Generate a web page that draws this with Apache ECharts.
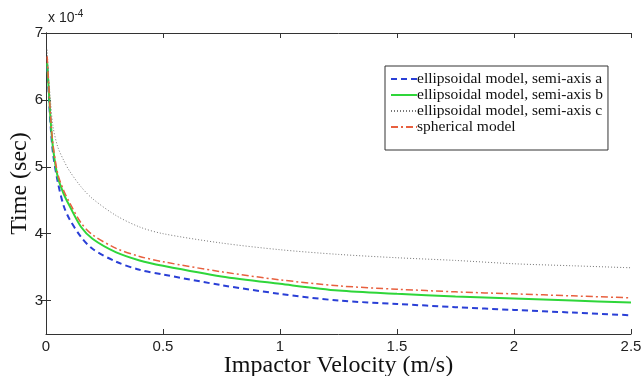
<!DOCTYPE html>
<html>
<head>
<meta charset="utf-8">
<script src="https://cdn.jsdelivr.net/npm/echarts@6/dist/echarts.min.js"></script>
<style>
  html, body { margin: 0; padding: 0; background: #fff; }
  #chart { width: 644px; height: 376px; }
</style>
</head>
<body>
<div id="chart"></div>
<script>
// impactor velocity (m/s)
const velocity = [0.005, 0.01, 0.02, 0.03, 0.05, 0.075, 0.1, 0.15, 0.2, 0.3, 0.4, 0.5, 0.75, 1.0, 1.25, 1.5, 1.75, 2.0, 2.25, 2.5];

// time in units of 1e-4 sec
const semiAxisA = [6.5, 6.2, 5.6, 5.2, 4.78, 4.42, 4.22, 3.95, 3.77, 3.58, 3.46, 3.39, 3.23, 3.1, 3.0, 2.95, 2.9, 2.86, 2.82, 2.78];
const semiAxisB = [6.55, 6.25, 5.68, 5.28, 4.85, 4.6, 4.42, 4.1, 3.92, 3.72, 3.6, 3.52, 3.36, 3.25, 3.15, 3.1, 3.06, 3.03, 3.0, 2.97];
const semiAxisC = [6.75, 6.42, 5.95, 5.6, 5.3, 5.1, 4.94, 4.7, 4.52, 4.27, 4.1, 4.0, 3.86, 3.76, 3.69, 3.64, 3.6, 3.55, 3.52, 3.49];
const spherical = [6.65, 6.32, 5.74, 5.33, 4.9, 4.65, 4.47, 4.16, 3.98, 3.78, 3.66, 3.58, 3.43, 3.31, 3.22, 3.17, 3.13, 3.1, 3.07, 3.04];

const xTicks = [0, 0.5, 1, 1.5, 2, 2.5];
const yTicks = [3, 4, 5, 6, 7];

const pairs = ys => velocity.map((v, i) => [v, ys[i]]);

const chart = echarts.init(document.getElementById('chart'));

const tickFont = { color: '#222', fontFamily: 'Liberation Sans', fontSize: 15 };

chart.setOption({
  animation: false,
  backgroundColor: '#fff',
  grid: { left: 46, right: 13, top: 33, bottom: 42, outerBoundsMode: 'none' },
  legend: {
    orient: 'vertical',
    left: 385,
    top: 66,
    padding: [5, 5, 15, 5],
    itemGap: 0,
    itemWidth: 26,
    itemHeight: 12,
    borderColor: '#333',
    borderWidth: 1,
    backgroundColor: '#fff',
    itemStyle: { opacity: 0 },
    textStyle: { color: '#111', fontFamily: 'Liberation Serif', fontSize: 15.5, lineHeight: 15, padding: [0, 0, 0, -5] },
    data: ['ellipsoidal model, semi-axis a', 'ellipsoidal model, semi-axis b', 'ellipsoidal model, semi-axis c', 'spherical model']
  },
  xAxis: [{
    type: 'value',
    min: 0,
    max: 2.5,
    interval: 0.5,
    name: 'Impactor Velocity (m/s)',
    nameLocation: 'middle',
    nameGap: 20,
    nameMoveOverlap: false,
    nameTextStyle: { color: '#111', fontFamily: 'Liberation Serif', fontSize: 24 },
    axisLine: { lineStyle: { color: '#333', width: 1 } },
    axisTick: { inside: true, length: 5, lineStyle: { color: '#333' }, customValues: xTicks },
    axisLabel: { ...tickFont, margin: 5, customValues: xTicks },
    splitLine: { show: false }
  }, {
    type: 'value',
    position: 'top',
    min: 0,
    max: 2.5,
    interval: 0.5,
    axisLine: { show: true, lineStyle: { color: '#333', width: 1 } },
    axisTick: { show: true, inside: true, length: 5, lineStyle: { color: '#333' }, customValues: xTicks },
    axisLabel: { show: false },
    splitLine: { show: false }
  }],
  yAxis: [{
    type: 'value',
    min: 2.5,
    max: 7,
    name: 'Time (sec)',
    nameLocation: 'middle',
    nameGap: 14,
    nameMoveOverlap: false,
    nameTextStyle: { color: '#111', fontFamily: 'Liberation Serif', fontSize: 24 },
    axisLine: { show: true, lineStyle: { color: '#333', width: 1 } },
    axisTick: { show: true, inside: true, length: 5, lineStyle: { color: '#333' }, customValues: yTicks },
    axisLabel: { ...tickFont, margin: 3, customValues: yTicks },
    splitLine: { show: false }
  }, {
    type: 'value',
    position: 'right',
    min: 2.5,
    max: 7,
    axisLine: { show: true, lineStyle: { color: '#333', width: 1 } },
    axisTick: { show: true, inside: true, length: 5, lineStyle: { color: '#333' }, customValues: yTicks },
    axisLabel: { show: false },
    splitLine: { show: false }
  }],
  graphic: [{
    type: 'text',
    left: 48,
    top: 9,
    style: {
      text: 'x 10{sup|-4}',
      fill: '#222',
      font: '14px "Liberation Sans"',
      rich: { sup: { fontSize: 10, fontFamily: 'Liberation Sans', verticalAlign: 'top', padding: [0, 0, 8, 0], fill: '#222' } }
    }
  }],
  series: [
    {
      name: 'ellipsoidal model, semi-axis a',
      type: 'line',
      symbol: 'none',
      smooth: 0.3,
      data: pairs(semiAxisA),
      lineStyle: { color: '#2a3fd6', width: 2, type: [6, 4] },
      itemStyle: { color: '#2a3fd6' }
    },
    {
      name: 'ellipsoidal model, semi-axis b',
      type: 'line',
      symbol: 'none',
      smooth: 0.3,
      data: pairs(semiAxisB),
      lineStyle: { color: '#2fd63a', width: 2 },
      itemStyle: { color: '#2fd63a' }
    },
    {
      name: 'ellipsoidal model, semi-axis c',
      type: 'line',
      symbol: 'none',
      smooth: 0.3,
      data: pairs(semiAxisC),
      lineStyle: { color: '#777', width: 1, type: [1, 2] },
      itemStyle: { color: '#777' }
    },
    {
      name: 'spherical model',
      type: 'line',
      symbol: 'none',
      smooth: 0.3,
      data: pairs(spherical),
      lineStyle: { color: '#e8603f', width: 1.5, type: [7, 3, 2, 3] },
      itemStyle: { color: '#e8603f' }
    }
  ]
});
</script>
</body>
</html>
